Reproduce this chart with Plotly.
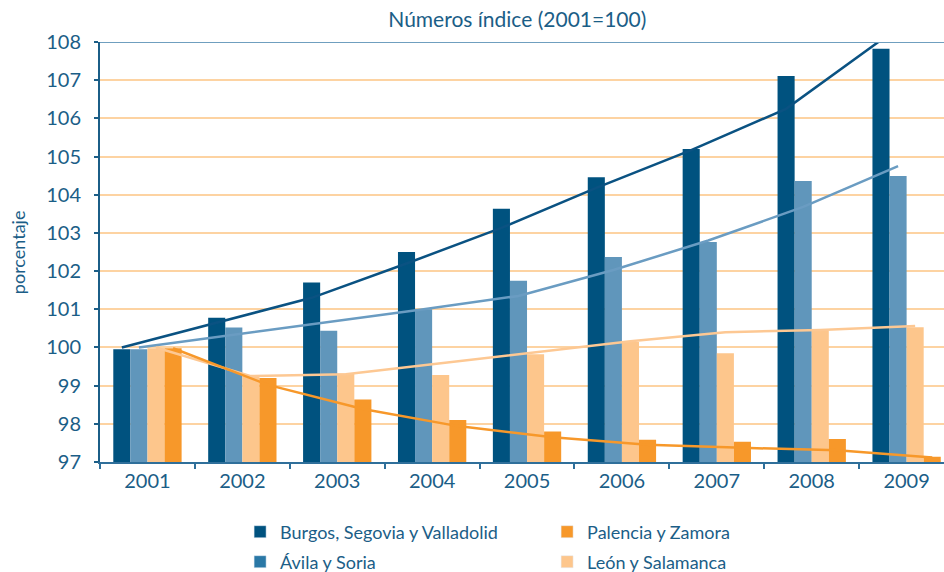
import plotly.graph_objects as go

years = ["2001", "2002", "2003", "2004", "2005", "2006", "2007", "2008", "2009"]
series_names = ["Burgos, Segovia y Valladolid", "Ávila y Soria", "León y Salamanca", "Palencia y Zamora"]

burgos = [99.95, 100.78, 101.70, 102.50, 103.63, 104.46, 105.20, 107.11, 107.82]
avila = [99.95, 100.52, 100.44, 101.00, 101.75, 102.37, 102.76, 104.36, 104.49]
leon = [99.98, 99.25, 99.32, 99.28, 99.82, 100.14, 99.85, 100.45, 100.53]
palencia = [99.98, 99.20, 98.64, 98.10, 97.80, 97.58, 97.53, 97.60, 97.14]

burgos_trend = [100.00, 100.64, 101.30, 102.20, 103.13, 104.18, 105.17, 106.25, 108.05]
avila_trend = [100.00, 100.33, 100.67, 101.00, 101.35, 102.03, 102.80, 103.68, 104.75]
leon_trend = [100.00, 99.25, 99.30, 99.59, 99.88, 100.16, 100.40, 100.46, 100.56]
palencia_trend = [99.98, 99.02, 98.39, 97.94, 97.65, 97.45, 97.37, 97.31, 97.12]

y_ticks = [97, 98, 99, 100, 101, 102, 103, 104, 105, 106, 107, 108]

bar_colors = ["#00527f", "#6096bb", "#fdc68c", "#f7982a"]
legend_colors = ["#00527f", "#2a78a6", "#fdc68c", "#f7982a"]
line_colors = ["#0a5282", "#6a9cc2", "#fdc893", "#f7982a"]
legend_ids = ["legend", "legend2", "legend2", "legend"]
ranks = [1, 1, 2, 2]
text_color = "#1b5e87"
font_family = "Lato, Open Sans, sans-serif"

bars = [burgos, avila, leon, palencia]
trends = [burgos_trend, avila_trend, leon_trend, palencia_trend]

idx = list(range(len(years)))
bar_w = 0.18
offsets = [-0.27, -0.09, 0.09, 0.27]

fig = go.Figure()
for i in range(4):
    fig.add_trace(go.Bar(
        x=[k + offsets[i] for k in idx], y=bars[i], width=bar_w,
        name=series_names[i], marker=dict(color=bar_colors[i], line=dict(width=0)),
        showlegend=False,
    ))
for i in range(4):
    fig.add_trace(go.Bar(
        x=[None], y=[None], name=series_names[i],
        marker=dict(color=legend_colors[i]), legendrank=ranks[i], showlegend=True,
        legend=legend_ids[i],
    ))
for i in range(4):
    fig.add_trace(go.Scatter(
        x=[k + offsets[i] for k in idx], y=trends[i], mode="lines",
        line=dict(color=line_colors[i], width=2.5), showlegend=False,
        cliponaxis=True, hoverinfo="skip",
    ))

legend_common = dict(orientation="h", xanchor="left", yanchor="middle", yref="container",
                     entrywidth=262, entrywidthmode="pixels",
                     font=dict(size=18, color=text_color),
                     bgcolor="rgba(0,0,0,0)", traceorder="normal")

fig.update_layout(
    width=944, height=572,
    margin=dict(l=100, r=0, t=42, b=110),
    paper_bgcolor="white", plot_bgcolor="white",
    barmode="overlay",
    font=dict(family=font_family, color=text_color, size=19),
    title=dict(text="Números índice (2001=100)", x=0.548, xref="container", xanchor="center",
               y=1 - 20 / 572, yref="container", yanchor="middle",
               font=dict(size=21, color=text_color)),
    showlegend=True,
    legend=dict(x=0.166, y=1 - 532 / 572, **legend_common),
    legend2=dict(x=0.166, y=1 - 562 / 572, **legend_common),
    xaxis=dict(range=[-0.5, 8.394], tickmode="array", tickvals=idx, ticktext=years,
               ticks="", showgrid=False, zeroline=False, showline=True,
               linecolor="#2f6f9a", linewidth=2, fixedrange=True,
               tickfont=dict(size=20, color=text_color)),
    xaxis2=dict(range=[-0.5, 8.394], overlaying="x", side="bottom", tickmode="array",
                tickvals=[k + 0.5 for k in range(-1, 9)], showticklabels=False,
                ticks="outside", ticklen=6, tickwidth=1.5, tickcolor="#2f6f9a",
                showgrid=False, zeroline=False, showline=False),
    yaxis=dict(range=[97, 108], tickmode="array", tickvals=y_ticks,
               ticks="outside", ticklen=4, tickwidth=1.5, tickcolor=text_color,
               ticklabelstandoff=9,
               showgrid=True, gridcolor="#fdd3a2", gridwidth=1.5, zeroline=False,
               showline=True, linecolor="#1b5e87", linewidth=2,
               tickfont=dict(size=20, color=text_color)),
    annotations=[dict(text="porcentaje", xref="paper", yref="paper", x=-0.097, y=0.5,
                      textangle=-90, showarrow=False, xanchor="center", yanchor="middle",
                      font=dict(size=18, color=text_color))],
    shapes=[dict(type="line", xref="paper", yref="y", x0=0, x1=1, y0=108, y1=108,
                 line=dict(color="#6f9fbf", width=2), layer="above")],
)
fig.add_trace(go.Scatter(x=[None], y=[None], xaxis="x2", showlegend=False, hoverinfo="skip"))

fig.write_html("out.html", config={"displayModeBar": False},
               post_script="document.body.style.margin='0';")
